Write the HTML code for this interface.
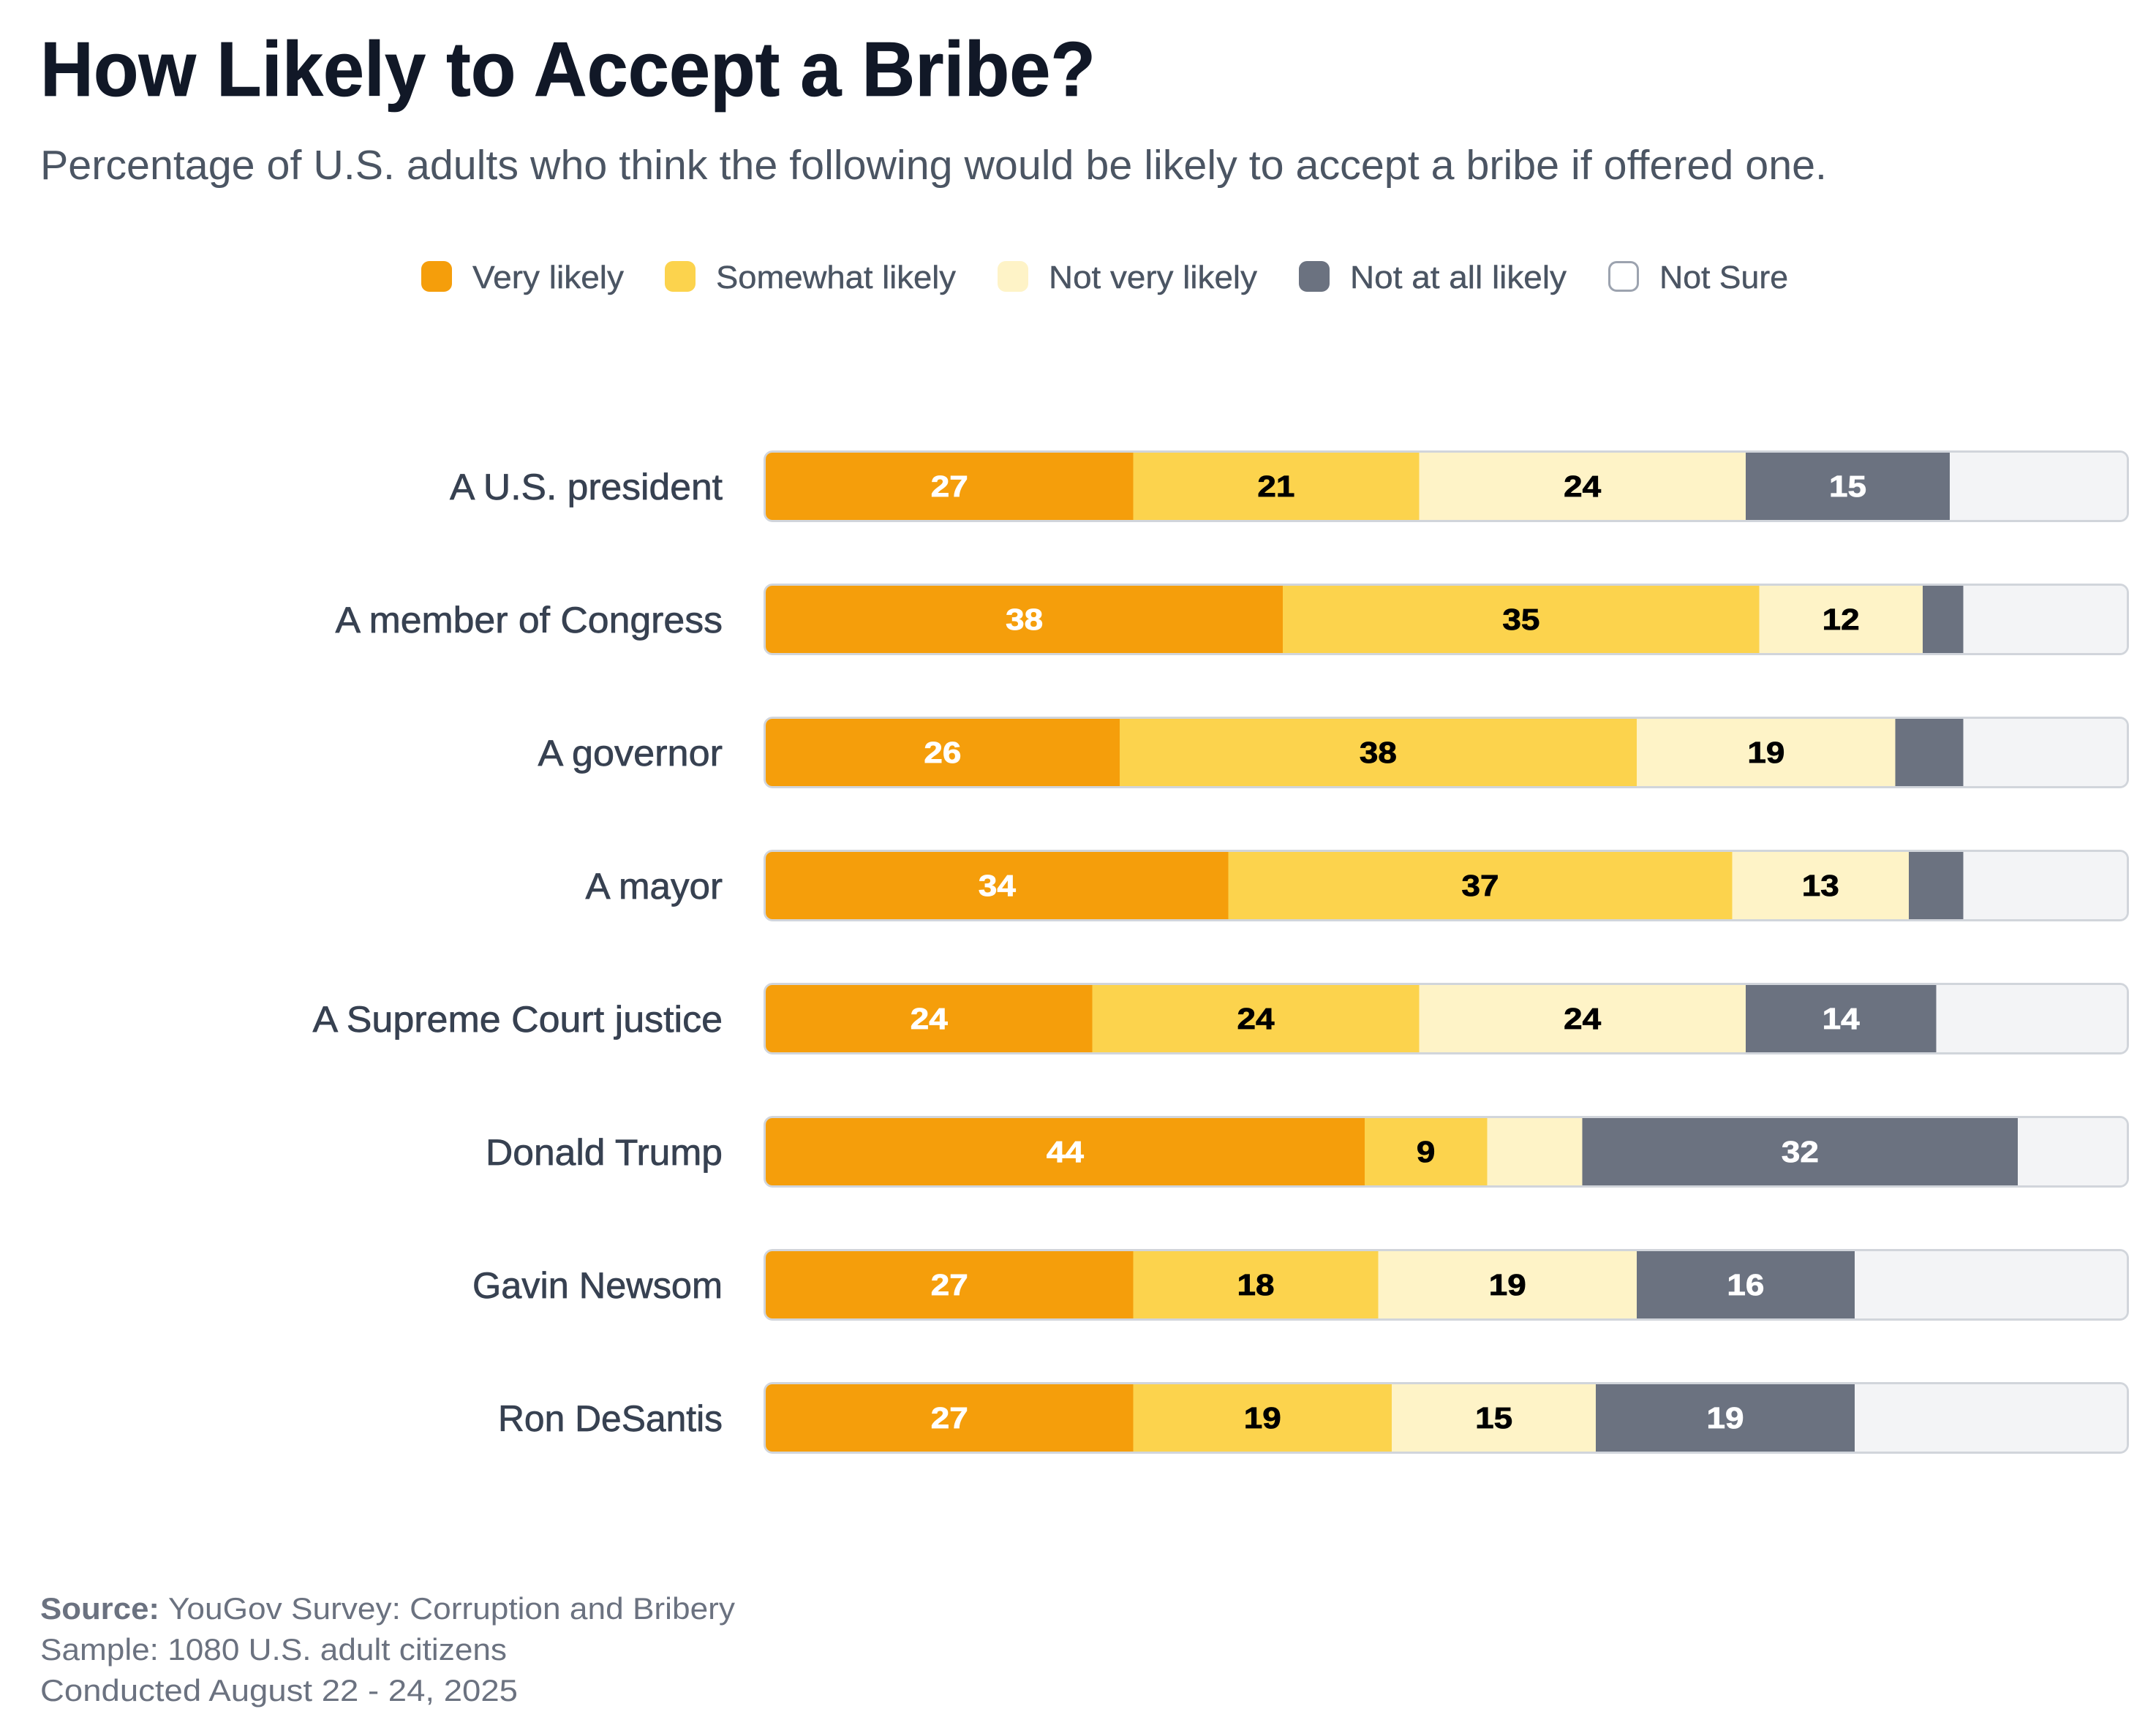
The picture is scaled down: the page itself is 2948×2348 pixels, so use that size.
<!DOCTYPE html>
<html lang="en">
<head>
<meta charset="utf-8">
<title>How Likely to Accept a Bribe?</title>
<style>
  html, body { margin: 0; padding: 0; background: #ffffff; }
  svg { display: block; }
  text { font-family: "Liberation Sans", Arial, sans-serif; }
  .title { font-size: 106px; font-weight: 700; fill: #111827; stroke: #111827; stroke-width: 0.8px; }
  .subtitle { font-size: 57px; fill: #4b5563; }
  .legend-text { font-size: 44px; fill: #4b5563; stroke: #4b5563; stroke-width: 0.4px; }
  .source { font-size: 42px; fill: #6b7280; }
  .row-label { font-size: 50px; fill: #374151; stroke: #374151; stroke-width: 0.7px; }
  .value { font-size: 41px; font-weight: 700; text-anchor: middle; stroke-width: 0.8px; }
</style>
</head>
<body>
<svg id="chart" xmlns="http://www.w3.org/2000/svg" width="2948" height="2348" viewBox="0 0 2948 2348">
  <rect x="0" y="0" width="2948" height="2348" fill="#ffffff"/>

  <text class="title" x="55" y="131" textLength="1443" lengthAdjust="spacingAndGlyphs">How Likely to Accept a Bribe?</text>
  <text class="subtitle" x="55" y="245" textLength="2443" lengthAdjust="spacingAndGlyphs">Percentage of U.S. adults who think the following would be likely to accept a bribe if offered one.</text>

  <g>
    <g>
      <rect x="576" y="357" width="42" height="42" rx="11" fill="#f59e0b"/>
      <text class="legend-text" x="646" y="394" textLength="207" lengthAdjust="spacingAndGlyphs">Very likely</text>
    </g>
    <g>
      <rect x="909" y="357" width="42" height="42" rx="11" fill="#fcd34d"/>
      <text class="legend-text" x="979" y="394" textLength="328" lengthAdjust="spacingAndGlyphs">Somewhat likely</text>
    </g>
    <g>
      <rect x="1364" y="357" width="42" height="42" rx="11" fill="#fef3c7"/>
      <text class="legend-text" x="1434" y="394" textLength="285" lengthAdjust="spacingAndGlyphs">Not very likely</text>
    </g>
    <g>
      <rect x="1776" y="357" width="42" height="42" rx="11" fill="#6b7280"/>
      <text class="legend-text" x="1846" y="394" textLength="296" lengthAdjust="spacingAndGlyphs">Not at all likely</text>
    </g>
    <g>
      <rect x="2200.5" y="358.5" width="39" height="39" rx="10" fill="#ffffff" stroke="#9ca3af" stroke-width="3"/>
      <text class="legend-text" x="2269" y="394" textLength="176" lengthAdjust="spacingAndGlyphs">Not Sure</text>
    </g>
  </g>

  <g id="rows"></g>

  <g>
    <text class="source" font-weight="700" x="55" y="2214" textLength="163" lengthAdjust="spacingAndGlyphs">Source:</text>
    <text class="source" x="230" y="2214" textLength="775" lengthAdjust="spacingAndGlyphs">YouGov Survey: Corruption and Bribery</text>
    <text class="source" x="55" y="2270" textLength="638" lengthAdjust="spacingAndGlyphs">Sample: 1080 U.S. adult citizens</text>
    <text class="source" x="55" y="2326" textLength="653" lengthAdjust="spacingAndGlyphs">Conducted August 22 - 24, 2025</text>
  </g>
</svg>

<script>
const categories = ['A U.S. president', 'A member of Congress', 'A governor', 'A mayor', 'A Supreme Court justice', 'Donald Trump', 'Gavin Newsom', 'Ron DeSantis'];
const veryLikely = [27, 38, 26, 34, 24, 44, 27, 27];
const somewhatLikely = [21, 35, 38, 37, 24, 9, 18, 19];
const notVeryLikely = [24, 12, 19, 13, 24, 7, 19, 15];
const notAtAllLikely = [15, 3, 5, 4, 14, 32, 16, 19];
const notSure = [13, 12, 12, 12, 14, 8, 20, 20];

const NS = 'http://www.w3.org/2000/svg';
const rowsGroup = document.getElementById('rows');

const labelFit = {
  'A U.S. president': 373,
  'A member of Congress': 529.5,
  'A governor': 252.5,
  'A mayor': 187.5,
  'A Supreme Court justice': 560.5,
  'Donald Trump': 324,
  'Gavin Newsom': 342,
  'Ron DeSantis': 307
};

const seriesList = [
  { key: 'very-likely', values: veryLikely, fill: '#f59e0b', ink: '#ffffff', labelled: true },
  { key: 'somewhat-likely', values: somewhatLikely, fill: '#fcd34d', ink: '#000000', labelled: true },
  { key: 'not-very-likely', values: notVeryLikely, fill: '#fef3c7', ink: '#000000', labelled: true },
  { key: 'not-at-all-likely', values: notAtAllLikely, fill: '#6b7280', ink: '#ffffff', labelled: true },
  { key: 'not-sure', values: notSure, fill: '#f3f4f6', ink: '#000000', labelled: false }
];

const plotLeft = 1047;
const plotWidth = 1861;
const firstRowTop = 619;
const rowPitch = 182;
const barHeight = 92;
const labelRight = 988;
const minLabelledValue = 8;
const digitWidth = 25.5;

function xScale(v) { return plotLeft + v / 100 * plotWidth; }
function yScale(i) { return firstRowTop + i * rowPitch; }

function make(tag, attrs) {
  const el = document.createElementNS(NS, tag);
  for (const k in attrs) el.setAttribute(k, attrs[k]);
  return el;
}

const defs = make('defs', {});
rowsGroup.appendChild(defs);

categories.forEach(function (name, i) {
  const top = yScale(i);
  const slug = name.toLowerCase().replace(/[^a-z0-9]+/g, '-');

  const row = make('g', {});
  
  
  rowsGroup.appendChild(row);

  const label = make('text', { class: 'row-label', y: top + 64 });
  
  
  const fit = labelFit[name];
  label.setAttribute('x', labelRight - fit);
  label.setAttribute('textLength', fit);
  label.setAttribute('lengthAdjust', 'spacingAndGlyphs');
  label.textContent = name;
  row.appendChild(label);

  const clip = make('clipPath', { id: 'clip-' + i });
  clip.appendChild(make('rect', { x: plotLeft, y: top, width: plotWidth, height: barHeight, rx: 9 }));
  defs.appendChild(clip);

  const track = make('rect', {
    x: plotLeft - 1.5, y: top - 1.5, width: plotWidth + 3, height: barHeight + 3, rx: 11,
    fill: '#f3f4f6', stroke: '#d1d5db', 'stroke-width': 3
  });
  
  
  row.appendChild(track);

  const segs = make('g', { 'clip-path': 'url(#clip-' + i + ')' });
  
  
  row.appendChild(segs);

  let running = 0;
  seriesList.forEach(function (s) {
    const v = s.values[i];
    const x0 = xScale(running);
    const x1 = xScale(running + v);
    const seg = make('rect', {
      x: x0, y: top, width: x1 - x0, height: barHeight, fill: s.fill, 'shape-rendering': 'crispEdges'
    });
    
    
    segs.appendChild(seg);

    if (s.labelled && v >= minLabelledValue) {
      const printed = String(v);
      const t = make('text', { class: 'value', x: (x0 + x1) / 2, y: top + 60, fill: s.ink, stroke: s.ink });
      
      
      t.setAttribute('textLength', printed.length * digitWidth);
      t.setAttribute('lengthAdjust', 'spacingAndGlyphs');
      t.textContent = printed;
      row.appendChild(t);
    }
    running += v;
  });
});
</script>
</body>
</html>
